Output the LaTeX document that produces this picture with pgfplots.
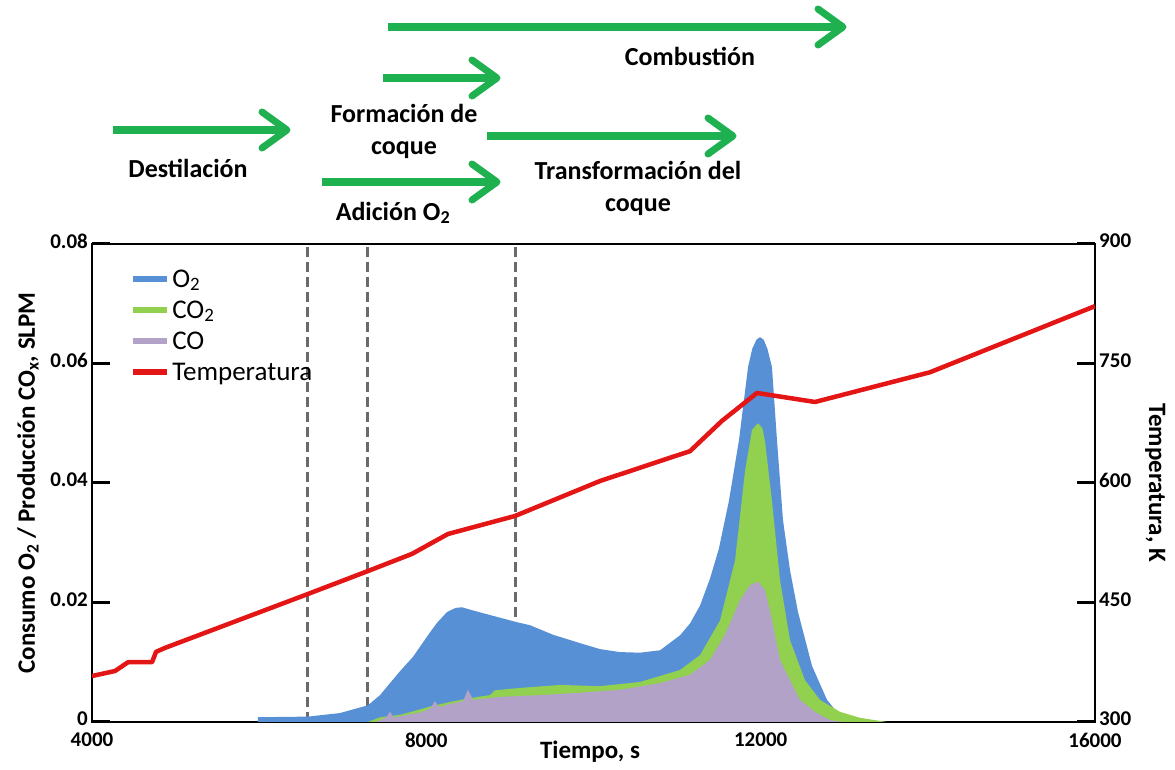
\documentclass[border=0pt]{standalone}
\usepackage{fontspec}
\setmainfont{Carlito}
\usepackage{pgfplots}
\pgfplotsset{compat=1.18}

\definecolor{otwo}{HTML}{5890D6}
\definecolor{cotwo}{HTML}{92D050}
\definecolor{comono}{HTML}{B3A2C7}
\definecolor{temp}{HTML}{E31515}
\definecolor{phasegreen}{HTML}{1FB050}
\definecolor{dashgray}{HTML}{6A6A6A}

\newcommand{\tickfont}{\fontsize{21}{21}\selectfont\bfseries}
\newcommand{\labfont}{\fontsize{25}{25}\selectfont\bfseries}
\newcommand{\legfont}{\fontsize{27}{27}\selectfont}
\newcommand{\annfont}{\fontsize{26}{32}\selectfont\bfseries}

\begin{document}
\begin{tikzpicture}[x=1pt,y=1pt]
\useasboundingbox (0,0) rectangle (1175,770);

% ---- process stages above the plot ----
\tikzset{
  shaft/.style={phasegreen, line width=8pt},
  chevron/.style={phasegreen, line width=7pt, line cap=round, line join=round}
}
% Combustion
\draw[shaft] (388,743) -- (838,743);
\draw[chevron] (818,761) -- (843,743) -- (818,725);
% Coke formation
\draw[shaft] (383,692) -- (492,692);
\draw[chevron] (472,710) -- (497,692) -- (472,674);
% Distillation
\draw[shaft] (113,640) -- (282,640);
\draw[chevron] (262,658) -- (287,640) -- (262,622);
% Coke transformation
\draw[shaft] (487,634) -- (728,634);
\draw[chevron] (708,652) -- (733,634) -- (708,616);
% O2 addition
\draw[shaft] (322,588) -- (492,588);
\draw[chevron] (472,606) -- (497,588) -- (472,570);

\node[font=\annfont] at (690,714) {Combustión};
\node[font=\annfont, align=center] at (404,639) {Formación de\\coque};
\node[font=\annfont] at (188,602) {Destilación};
\node[font=\annfont, align=center] at (638,582) {Transformación del\\coque};
\node[font=\annfont] at (393,557) {Adición O\textsubscript{2}};

% ---- gas flows (left axis) ----
\begin{axis}[
  at={(92pt,48pt)}, anchor=south west, scale only axis,
  width=1003pt, height=478pt,
  xmin=4000, xmax=16000, ymin=0, ymax=0.08,
  scaled ticks=false,
  xtick={4000,8000,12000,16000}, xticklabels={4000,8000,12000,16000},
  ytick={0,0.02,0.04,0.06,0.08}, yticklabels={0,0.02,0.04,0.06,0.08},
  ytick pos=left,
  tick align=inside,
  major tick length=18pt,
  tick style={black, line width=3pt},
  xtick style={draw=none},
  axis line style={line width=2.5pt},
  tick label style={font=\tickfont},
  xticklabel style={inner sep=0pt, yshift=-11pt},
  yticklabel style={yshift=3pt, inner sep=1pt, xshift=-3pt},
  xlabel={Tiempo, s},
  ylabel={Consumo O\textsubscript{2} / Producción CO\textsubscript{x}, SLPM},
  every axis x label/.style={at={(axis description cs:0.4965,-0.063)}, anchor=center, font=\labfont},
  every axis y label/.style={at={(axis description cs:-0.0638,0.5)}, rotate=90, anchor=center, font=\labfont},
  legend style={at={(axis description cs:0.035,0.955)}, anchor=north west,
    draw=none, fill=none, font=\legfont, row sep=8pt},
  legend cell align=left,
  legend image code/.code={\draw[#1] (0pt,0pt) -- (34pt,0pt);},
]
% stage boundaries
\addplot[dashgray, line width=3pt, dash pattern=on 10pt off 5pt, forget plot] coordinates {(6584,0) (6584,0.08)};
\addplot[dashgray, line width=3pt, dash pattern=on 10pt off 5pt, forget plot] coordinates {(7302,0) (7302,0.08)};
\addplot[dashgray, line width=3pt, dash pattern=on 10pt off 5pt, forget plot] coordinates {(9061,0) (9061,0.08)};

% O2 consumption
\addplot[fill=otwo, draw=none, forget plot] coordinates {
(5986,0) (5986,0.0008) (6584,0.0009) (6967,0.0015) (7302,0.0028) (7446,0.0045)
(7565,0.0065) (7685,0.0085) (7840,0.0109) (8044,0.0150) (8128,0.0166)
(8247,0.0184) (8350,0.0191) (8427,0.0192) (8550,0.0187) (8762,0.0179)
(9085,0.0167) (9240,0.0162) (9516,0.0146) (9838,0.0132) (10078,0.0122)
(10317,0.0117) (10556,0.0116) (10796,0.0120) (11035,0.0145) (11155,0.0165)
(11275,0.0195) (11394,0.0240) (11500,0.0290) (11620,0.0370) (11741,0.0472)
(11849,0.0594) (11900,0.0625) (11950,0.0640) (11992,0.0644) (12035,0.0640)
(12080,0.0625) (12135,0.0594)
(12195,0.0472) (12267,0.0338) (12351,0.0254) (12447,0.0184) (12614,0.0094)
(12794,0.0037) (12950,0.0010) (13070,0)
} \closedcycle;

% CO2 production
\addplot[fill=cotwo, draw=none, forget plot] coordinates {
(7300,0) (7450,0.0008) (7685,0.0012) (7900,0.0020) (8044,0.0026)
(8300,0.0034) (8522,0.0040) (8762,0.0045) (8820,0.0053) (9121,0.0057)
(9599,0.0062) (10078,0.0060) (10556,0.0067) (11035,0.0087) (11275,0.0112)
(11514,0.0170) (11693,0.0270) (11813,0.0420) (11896,0.0489) (11968,0.0500)
(12020,0.0492) (12052,0.0470) (12135,0.0370) (12231,0.0238) (12351,0.0137) (12530,0.0070)
(12710,0.0037) (12949,0.0017) (13188,0.0007) (13511,0)
} \closedcycle;

% CO production
\addplot[fill=comono, draw=none, forget plot] coordinates {
(7400,0) (7520,0.0008) (7565,0.0017) (7610,0.0008) (7700,0.0010)
(7924,0.0016) (8044,0.0022) (8104,0.0035) (8150,0.0025) (8283,0.0030)
(8440,0.0035) (8498,0.0054) (8560,0.0037) (8881,0.0042) (9360,0.0045)
(9838,0.0049) (10317,0.0054) (10796,0.0065) (11155,0.0079) (11394,0.0104)
(11573,0.0146) (11753,0.0204) (11872,0.0229) (11968,0.0235) (12052,0.0221)
(12135,0.0171) (12231,0.0104) (12351,0.0070) (12470,0.0037) (12650,0.0017)
(12830,0.0003) (12985,0)
} \closedcycle;

\addlegendimage{otwo, line width=6pt}
\addlegendentry{O\textsubscript{2}}
\addlegendimage{cotwo, line width=6pt}
\addlegendentry{CO\textsubscript{2}}
\addlegendimage{comono, line width=6pt}
\addlegendentry{CO}
\addlegendimage{temp, line width=6pt}
\addlegendentry{Temperatura}
\end{axis}

% ---- temperature (right axis) ----
\begin{axis}[
  at={(92pt,48pt)}, anchor=south west, scale only axis,
  width=1003pt, height=478pt,
  xmin=4000, xmax=16000, ymin=300, ymax=900,
  scaled ticks=false,
  axis x line=none, axis y line*=right,
  ytick={300,450,600,750,900}, yticklabels={300,450,600,750,900},
  tick align=inside,
  major tick length=18pt,
  tick style={black, line width=3pt},
  axis line style={line width=2.5pt},
  tick label style={font=\tickfont},
  yticklabel style={yshift=3pt, inner sep=1pt, xshift=3pt},
  ylabel={Temperatura, K},
  every axis y label/.style={at={(axis description cs:1.06,0.5)}, rotate=-90, anchor=center, font=\labfont},
]
\addplot[temp, line width=4.5pt, line join=round] coordinates {
(4000,357.7) (4275,364) (4431,375) (4718,375) (4766,388) (4873,393)
(6584,460.7) (7302,489.5) (7828,511) (8259,536) (9061,558.6)
(10078,602.5) (11155,640) (11537,678) (11956,713) (12650,701.7)
(14026,739) (16000,822)
};
\end{axis}
\end{tikzpicture}
\end{document}
